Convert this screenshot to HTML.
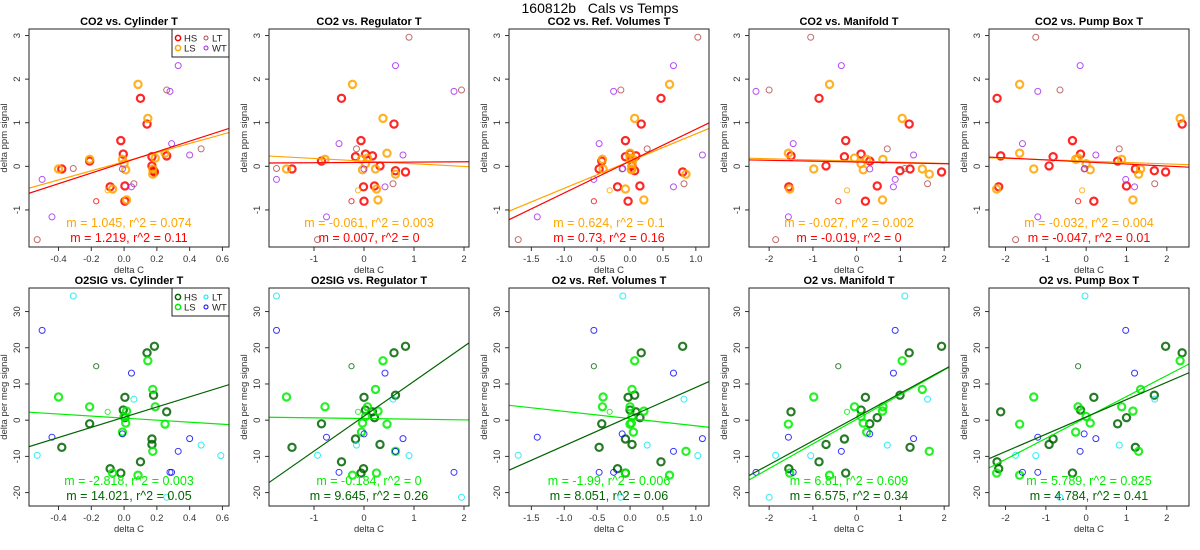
<!DOCTYPE html>
<html><head><meta charset="utf-8"><style>
body{margin:0;background:#fff;}
svg{display:block;font-family:"Liberation Sans",sans-serif;}
</style></head><body>
<svg id="chart" width="1200" height="550" viewBox="0 0 1200 550" xmlns="http://www.w3.org/2000/svg">
<rect width="1200" height="550" fill="#fff"/>
<text x="600" y="13" text-anchor="middle" font-size="14">160812b&#160;&#160;&#160;Cals vs Temps</text>
</svg>
<script>
// ---- data: one entry per observation ----
const group = ['HS','HS','HS','HS','HS','HS','HS','HS','HS','HS','HS','HS','HS','HS',
 'LS','LS','LS','LS','LS','LS','LS','LS','LS','LS','LS','LS','LS','LSs','HSs',
 'LT','LT','LT','LT','LT','LT','WT','WT','WT','WT','WT','WT','WT','WT'];
const co2 = [1.56,0.97,0.59,0.28,0.24,0.22,0.12,0.01,-0.06,-0.10,-0.13,-0.45,-0.47,-0.80,
 1.88,1.10,0.30,0.19,0.16,0.16,0.06,-0.06,-0.08,-0.06,-0.18,-0.52,-0.77,-0.55,-0.80,
 -1.68,-0.05,-0.40,1.75,0.40,2.96,-0.30,-1.16,0.52,-0.06,-0.47,2.31,0.26,1.72];
const o2 = [-11.5,18.6,-14.6,2.8,2.3,-5.2,-1.0,-6.7,-7.5,6.9,20.4,0.7,-13.4,6.3,
 -15.2,16.4,-1.1,3.7,3.7,-3.3,1,6.4,-0.8,8.5,-8.6,-14.6,2.5,2.3,14.9,
 -9.7,34.3,5.8,-21.3,-6.9,-9.8,24.8,-4.7,-14.4,-3.8,13,-8.6,-5.1,-14.4];
const xCyl = [.10,.14,-.02,-.005,.26,.17,-.21,.17,-.38,.18,.185,.005,-.085,.005,
 .085,.145,.25,.19,-.21,-.01,0,-.4,.01,.175,.175,-.07,.015,-.1,-.17,
 -.53,-.31,.06,.26,.47,.59,-.5,-.44,.29,-.01,.045,.33,.4,.28];
const xReg = [-.45,.60,-.06,.03,.17,-.17,-.85,.32,-1.44,.63,.83,.21,-.01,0,
 -.23,.38,.46,.07,-.78,-.05,.03,-1.55,-.03,.23,.63,.25,.28,-.12,-.25,
 -.93,-1.75,.58,1.95,-.15,.9,-1.75,-.75,-.5,0,.42,.63,.78,1.8];
const xRef = [.47,.17,-.07,0,.09,-.07,-.43,.03,-.47,.07,.80,.15,-.19,-.03,
 .6,.07,0,0,-.42,.05,.03,-.41,.02,.03,.85,-.07,.21,-.31,-.55,
 -1.7,-.11,.82,-.14,.26,1.03,-.55,-1.41,-.47,-.12,.66,.66,1.1,-.25];
const xMan = [-.86,1.2,-.25,.1,-1.5,-.28,.3,-.7,1.22,.99,1.94,.47,-1.55,.2,
 -.62,1.04,-1.56,-.05,.6,.23,.1,-.98,.15,1.5,1.66,-1.53,.59,-.22,-.42,
 -1.85,1.1,1.62,-2.0,.7,-1.05,.88,-1.56,-1.45,.3,.84,-.35,1.3,-2.3];
const xPump = [-2.21,2.38,-.34,-.14,-2.12,-.82,.78,-.92,1.22,1.69,1.97,1.0,-2.17,.19,
 -1.65,2.33,-1.65,-.2,.88,-.26,0,-1.3,.1,1.35,1.3,-2.22,1.16,-.1,-.2,
 -1.75,-.03,1.7,-.65,.82,-1.25,.98,-1.2,-1.58,-.05,1.2,-.15,.24,-1.2];
// fit lines: slope & intercept per column (HS fit, LS fit)
const co2SlopeHS = [1.219,0.007,0.73,-0.019,-0.047];
const co2InterHS = [0.09,0.09,0.12,0.10,0.10];
const co2SlopeLS = [1.045,-0.061,0.624,-0.027,-0.032];
const co2InterLS = [0.106,0.12,0.12,0.12,0.12];
const o2SlopeHS = [14.021,9.645,8.051,6.575,4.784];
const o2InterHS = [0.83,1.1,1.0,0.87,0.9];
const o2SlopeLS = [-2.818,-0.184,-1.99,6.81,5.789];
const o2InterLS = [0.57,0.45,0.44,0.25,0.75];
const co2StatLS = ['m = 1.045, r^2 = 0.074','m = -0.061, r^2 = 0.003','m = 0.624, r^2 = 0.1','m = -0.027, r^2 = 0.002','m = -0.032, r^2 = 0.004'];
const co2StatHS = ['m = 1.219, r^2 = 0.11','m = 0.007, r^2 = 0','m = 0.73, r^2 = 0.16','m = -0.019, r^2 = 0','m = -0.047, r^2 = 0.01'];
const o2StatLS = ['m = -2.818, r^2 = 0.003','m = -0.184, r^2 = 0','m = -1.99, r^2 = 0.006','m = 6.81, r^2 = 0.609','m = 5.789, r^2 = 0.825'];
const o2StatHS = ['m = 14.021, r^2 = 0.05','m = 9.645, r^2 = 0.26','m = 8.051, r^2 = 0.06','m = 6.575, r^2 = 0.34','m = 4.784, r^2 = 0.41'];
const titlesTop = ['CO2 vs. Cylinder T','CO2 vs. Regulator T','CO2 vs. Ref. Volumes T','CO2 vs. Manifold T','CO2 vs. Pump Box T'];
const titlesBot = ['O2SIG vs. Cylinder T','O2SIG vs. Regulator T','O2 vs. Ref. Volumes T','O2 vs. Manifold T','O2 vs. Pump Box T'];
const xTicks = [[-0.4,-0.2,0,0.2,0.4,0.6],[-1,0,1,2],[-1.5,-1,-0.5,0,0.5,1],[-2,-1,0,1,2],[-2,-1,0,1,2]];
const xTickLabels = [['-0.4','-0.2','0.0','0.2','0.4','0.6'],['-1','0','1','2'],['-1.5','-1.0','-0.5','0.0','0.5','1.0'],['-2','-1','0','1','2'],['-2','-1','0','1','2']];
const yTicksTop = [-1,0,1,2,3];
const yTicksBot = [-20,-10,0,10,20,30];

const xRanges = [[-0.58,0.64],[-1.9,2.1],[-1.84,1.2],[-2.46,2.11],[-2.41,2.55]];
const xCols = [xCyl,xReg,xRef,xMan,xPump];
const NS='http://www.w3.org/2000/svg';
const svg=document.getElementById('chart');
function mk(tag,attrs,parent){const e=document.createElementNS(NS,tag);for(const k in attrs)e.setAttribute(k,attrs[k]);(parent||svg).appendChild(e);return e;}
const topColors={HS:'#ff0000',LS:'#ffa500',LT:'#b04848',WT:'#a020f0',HSs:'#ff0000',LSs:'#ffa500'};
const botColors={HS:'#006400',LS:'#00ee00',LT:'#00e5ee',WT:'#0000ff',HSs:'#006400',LSs:'#00ee00'};

function panel(col,row){
  const bx0=29+240*col, bx1=bx0+200;
  const by0=row===0?29:288, by1=row===0?247:506;
  const xr=xRanges[col];
  const yr=row===0?[-1.85,3.15]:[-23.7,36.5];
  const sx=v=>bx0+(v-xr[0])/(xr[1]-xr[0])*(bx1-bx0);
  const sy=v=>by1-(v-yr[0])/(yr[1]-yr[0])*(by1-by0);
  const pre=(row===0?'co2-':'o2-')+'p'+(col+1)+'-';
  const g=mk('g',{});
  
  
  const cid='clip'+row+col;
  const cp=mk('clipPath',{id:cid},g);mk('rect',{x:bx0,y:by0,width:bx1-bx0,height:by1-by0},cp);
  const t=mk('text',{x:(bx0+bx1)/2,y:row===0?25:284,'text-anchor':'middle','font-size':'11','font-weight':'bold'},g);
  t.textContent=row===0?titlesTop[col]:titlesBot[col];
  
  
  xTicks[col].forEach((v,i)=>{
    const x=sx(v);
    mk('line',{x1:x,x2:x,y1:by1,y2:by1+4,stroke:'#333','stroke-width':1},g);
    const tl=mk('text',{x:x,y:by1+15,'text-anchor':'middle','font-size':'9.5',fill:'#333'},g);
    tl.textContent=xTickLabels[col][i];
    
    
  });
  const yt=row===0?yTicksTop:yTicksBot;
  yt.forEach(v=>{
    const y=sy(v);
    mk('line',{x1:bx0-4,x2:bx0,y1:y,y2:y,stroke:'#333','stroke-width':1},g);
    const tl=mk('text',{x:bx0-9,y:y,'text-anchor':'middle','font-size':'9.5',fill:'#333',transform:`rotate(-90 ${bx0-9} ${y})`},g);
    tl.textContent=String(v);
    
    
  });
  const xl=mk('text',{x:(bx0+bx1)/2,y:by1+26,'text-anchor':'middle','font-size':'9.5',fill:'#333'},g);
  xl.textContent='delta C';
  
  
  const yx=bx0-22, ym=(by0+by1)/2;
  const yl=mk('text',{x:yx,y:ym,'text-anchor':'middle','font-size':'9.5',fill:'#333',transform:`rotate(-90 ${yx} ${ym})`},g);
  yl.textContent=row===0?'delta ppm signal':'delta per meg signal';
  
  
  const pg=mk('g',{'clip-path':`url(#${cid})`},g);
  const xs=xCols[col], ys=row===0?co2:o2, cols=row===0?topColors:botColors;
  for(let i=0;i<group.length;i++){
    const gr=group[i];
    const thick=(gr==='HS'||gr==='LS');
    const c=mk('circle',{cx:sx(xs[i]),cy:sy(ys[i]),r:thick?3.6:(gr.endsWith('s')?2.6:3),fill:'none',stroke:cols[gr],'stroke-width':thick?2.2:1,'stroke-opacity':thick?0.85:0.8},pg);
    
    
  }
  const fits=row===0?[[co2SlopeLS,co2InterLS,cols.LS],[co2SlopeHS,co2InterHS,cols.HS]]:[[o2SlopeLS,o2InterLS,cols.LS],[o2SlopeHS,o2InterHS,cols.HS]];
  fits.forEach((f,k)=>{
    const m=f[0][col],b=f[1][col];
    const l=mk('line',{x1:sx(xr[0]),y1:sy(m*xr[0]+b),x2:sx(xr[1]),y2:sy(m*xr[1]+b),stroke:f[2],'stroke-width':1.2},pg);
    
    
  });
  const s1=mk('text',{x:(bx0+bx1)/2,y:row===0?227:485,'text-anchor':'middle','font-size':'12.5',fill:row===0?'#ffa500':'#00ee00'},g);
  s1.textContent=row===0?co2StatLS[col]:o2StatLS[col];
  
  
  const s2=mk('text',{x:(bx0+bx1)/2,y:row===0?242:500,'text-anchor':'middle','font-size':'12.5',fill:row===0?'#ff0000':'#006400'},g);
  s2.textContent=row===0?co2StatHS[col]:o2StatHS[col];
  
  
  const box=mk('rect',{x:bx0,y:by0,width:bx1-bx0,height:by1-by0,fill:'none',stroke:'#222','stroke-width':1},g);
  
  
  if(col===0){
    const lg=mk('g',{},g);
    
    
    mk('rect',{x:bx1-57,y:by0,width:57,height:28,fill:'#fff',stroke:'#222','stroke-width':1},lg);
    [['HS',0,0],['LS',0,1],['LT',1,0],['WT',1,1]].forEach(e=>{
      const cx=bx1-51+e[1]*28, cy=by0+9+e[2]*10;
      mk('circle',{cx:cx,cy:cy,r:e[0]==='HS'||e[0]==='LS'?2.6:2,fill:'none',stroke:cols[e[0]],'stroke-width':e[0]==='HS'||e[0]==='LS'?1.5:1},lg);
      const lt=mk('text',{x:cx+6,y:cy+3.5,'font-size':'9.5',fill:'#222'},lg);
      lt.textContent=e[0];
      
      
    });
  }
}
for(let r=0;r<2;r++)for(let c=0;c<5;c++)panel(c,r);
</script>
</body></html>
